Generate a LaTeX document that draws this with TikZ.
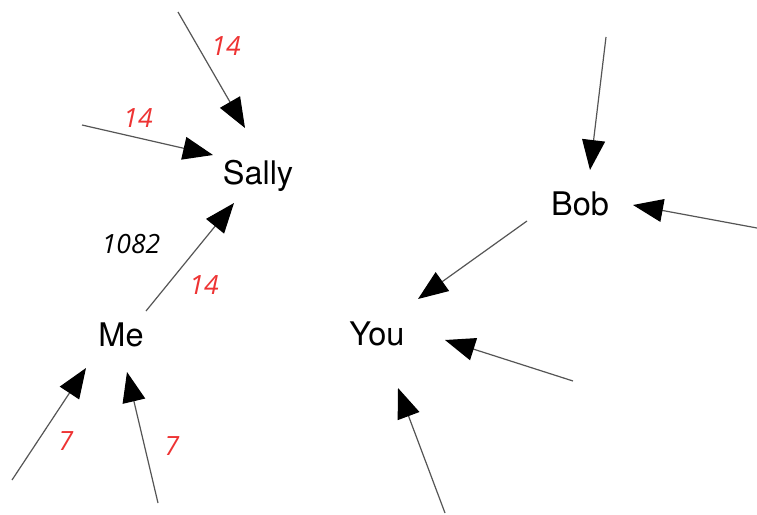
\documentclass[tikz,border=0pt]{standalone}
\usepackage{fontspec}
\setmainfont{TeX Gyre Heros}
\newfontfamily\labelfont{Open Sans}
\usetikzlibrary{arrows.meta}
\definecolor{edgegray}{HTML}{555555}
\definecolor{labred}{HTML}{EE3333}
\tikzset{
  person/.style={inner sep=0pt, font=\fontsize{32.5}{36}\selectfont},
  edge/.style={draw=edgegray, line width=1.2pt, -{Triangle[length=30pt,width=23pt,color=black]}},
  wlab/.style={font=\labelfont\itshape\fontsize{26.5}{30}\selectfont, text=labred, inner sep=0pt},
  blab/.style={font=\labelfont\itshape\fontsize{26.5}{30}\selectfont, text=black, inner sep=0pt}
}
\begin{document}
\begin{tikzpicture}[x=1pt,y=-1pt]
\useasboundingbox[fill=white] (0,0) rectangle (757,514);
% nodes
\node[person] (sally) at (258,176) {Sally};
\node[person] (me) at (121,335) {Me};
\node[person] (bob) at (580,204) {Bob};
\node[person] (you) at (377,334) {You};
% free ends
\coordinate (s1) at (178,12);
\coordinate (s2) at (82,125);
\coordinate (m1) at (12,480);
\coordinate (m2) at (158,503);
\coordinate (b1) at (606,37);
\coordinate (b2) at (757,228);
\coordinate (y1) at (573,381);
\coordinate (y2) at (445,513);
% connectors
\draw[edge] (s1) -- ([shift={(-13,-48)}]sally.center);
\draw[edge] (s2) -- ([shift={(-45,-21)}]sally.center);
\draw[edge] ([shift={(25,-24)}]me.center) -- ([shift={(-24,27)}]sally.center);
\draw[edge] (m1) -- ([shift={(-35,33)}]me.center);
\draw[edge] (m2) -- ([shift={(6,37)}]me.center);
\draw[edge] (b1) -- ([shift={(10,-34)}]bob.center);
\draw[edge] (b2) -- ([shift={(53,1)}]bob.center);
\draw[edge] ([shift={(-53,17)}]bob.center) -- ([shift={(41,-35)}]you.center);
\draw[edge] (y1) -- ([shift={(68,6)}]you.center);
\draw[edge] (y2) -- ([shift={(21,54)}]you.center);
% labels
\node[wlab] (l1) at (226,46) {14};
\node[wlab] (l2) at (138,118) {14};
\node[blab] (l3) at (131,244) {1082};
\node[wlab] (l4) at (204,285) {14};
\node[wlab] (l5) at (66,441) {7};
\node[wlab] (l6) at (172,446) {7};
\end{tikzpicture}
\end{document}
